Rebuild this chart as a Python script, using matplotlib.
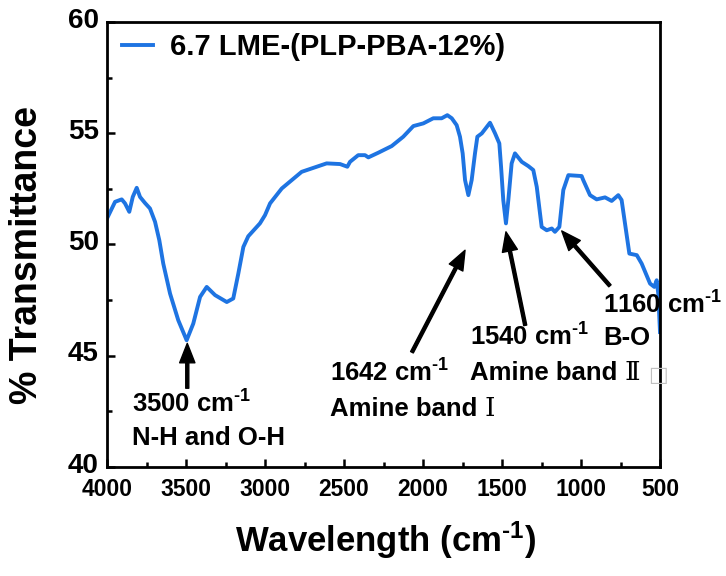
import matplotlib
matplotlib.use("Agg")
import matplotlib.pyplot as plt
import matplotlib.transforms as mtransforms
from matplotlib.ticker import MultipleLocator

plt.rcParams['font.family'] = ['Liberation Sans', 'DejaVu Serif']
plt.rcParams['font.weight'] = 'bold'
plt.rcParams['mathtext.fontset'] = 'custom'
plt.rcParams['mathtext.rm'] = 'Liberation Sans:bold'
plt.rcParams['mathtext.bf'] = 'Liberation Sans:bold'
plt.rcParams['mathtext.default'] = 'bf'

# Spectrum
wavenumber = [4000, 3949, 3907, 3886, 3859, 3837, 3812, 3791, 3760, 3728, 3696, 3669,
              3644, 3601, 3549, 3496, 3454, 3411, 3369, 3316, 3242, 3201, 3169, 3137,
              3106, 3032, 3000, 2968, 2894, 2768, 2610, 2525, 2479, 2462, 2410, 2367,
              2346, 2283, 2198, 2125, 2061, 1998, 1935, 1882, 1846, 1818, 1787, 1766,
              1749, 1734, 1713, 1692, 1671, 1656, 1628, 1576, 1544, 1517, 1506, 1492,
              1475, 1460, 1439, 1418, 1375, 1334, 1302, 1280, 1249, 1217, 1185, 1165,
              1137, 1112, 1080, 996, 986, 943, 901, 848, 806, 764, 743, 694, 647, 616,
              563, 536, 521, 511, 500]
transmittance = [51.17, 51.92, 52.03, 51.85, 51.47, 52.14, 52.55, 52.14, 51.87, 51.62, 51.02, 50.19,
                 49.14, 47.79, 46.59, 45.69, 46.44, 47.64, 48.09, 47.72, 47.41, 47.57, 48.69, 49.89,
                 50.37, 50.95, 51.32, 51.85, 52.52, 53.27, 53.65, 53.62, 53.50, 53.72, 54.02, 54.02,
                 53.92, 54.13, 54.43, 54.85, 55.33, 55.45, 55.68, 55.68, 55.82, 55.68, 55.37, 54.85,
                 54.10, 52.90, 52.22, 52.90, 54.10, 54.85, 55.00, 55.48, 55.00, 54.55, 53.50, 52.00,
                 50.95, 52.00, 53.65, 54.10, 53.72, 53.53, 53.35, 52.59, 50.79, 50.64, 50.72, 50.57,
                 50.79, 52.45, 53.12, 53.08, 52.90, 52.22, 52.03, 52.12, 51.96, 52.22, 52.00, 49.59,
                 49.52, 49.14, 48.24, 48.09, 48.39, 47.79, 46.06]

series_label = "6.7 LME-(PLP-PBA-12%)"
x_ticks = [4000, 3500, 3000, 2500, 2000, 1500, 1000, 500]
y_ticks = [40, 45, 50, 55, 60]

SUP = "$^{\u2010\\mathbf{1}}$"

# annotations: (tip_x, tip_y, tail_x, tail_y)
arrows = [
    (3492, 45.55, 3492, 43.53),
    (1734, 49.74, 2070, 45.15),
    (1475, 50.57, 1353, 46.36),
    (1122, 50.61, 817, 48.14),
]
# texts: (x, y, string, roman numeral suffix)
labels = [
    (3842, 42.45, "3500 cm" + SUP, ""),
    (3842, 40.98, "N-H and O-H", ""),
    (2589, 43.81, "1642 cm" + SUP, ""),
    (2589, 42.27, "Amine band ", "\u2160"),
    (1703, 45.46, "1540 cm" + SUP, ""),
    (1703, 43.89, "Amine band ", "\u2161"),
    (861, 46.91, "1160 cm" + SUP, ""),
    (861, 45.46, "B-O", ""),
]

fig = plt.figure(figsize=(7.26, 5.76), dpi=100)
ax = fig.add_axes([0.1474, 0.1898, 0.7617, 0.7715])

ax.plot(wavenumber, transmittance, color='#1E74E2', lw=2.8, label=series_label)

ax.set_xlim(4000, 500)
ax.set_ylim(40, 60)
ax.set_xticks(x_ticks)
ax.set_yticks(y_ticks)
ax.xaxis.set_minor_locator(MultipleLocator(250))
ax.yaxis.set_minor_locator(MultipleLocator(2.5))
ax.tick_params(which='both', direction='in', width=1.8)
ax.tick_params(which='major', length=6)
ax.tick_params(which='minor', length=3.5)
ax.tick_params(axis='x', labelsize=16.5, pad=8)
ax.tick_params(axis='y', labelsize=20, pad=6)
for lab in ax.get_xticklabels() + ax.get_yticklabels():
    lab.set_fontweight('bold')
shift_up = mtransforms.ScaledTranslation(0, 3 / 72, fig.dpi_scale_trans)
for lab in ax.get_yticklabels():
    lab.set_transform(lab.get_transform() + shift_up)
for s in ax.spines.values():
    s.set_linewidth(2)

ax.set_xlabel("Wavelength (cm" + SUP + ")", fontsize=25, fontweight='bold')
ax.xaxis.set_label_coords(0.504, -0.118)
ax.set_ylabel("% Transmittance", fontsize=27, fontweight='bold')
ax.yaxis.set_label_coords(-0.112, 0.476)

for tx, ty, sx, sy in arrows:
    ax.annotate("", xy=(tx, ty), xytext=(sx, sy),
                arrowprops=dict(facecolor='black', edgecolor='black', width=2.2,
                                headwidth=11, headlength=14, shrink=0))

for x, y, s, num in labels:
    t = ax.text(x, y, s, fontsize=18.5, fontweight='bold', ha='left', va='baseline',
                clip_on=False)
    if num:
        n = ax.annotate(num, xy=(1, 0), xycoords=t, ha='left', va='bottom',
                        fontsize=19, fontweight='normal', family=['DejaVu Serif'],
                        annotation_clip=False)
        if num == "\u2161":
            ax.annotate("\u25a1", xy=(1, 0), xycoords=n, xytext=(6, 0),
                        textcoords='offset points', ha='left', va='bottom',
                        fontsize=15, color='#c0c0c0', family=['DejaVu Sans'],
                        annotation_clip=False)

leg = ax.legend(loc='center left', bbox_to_anchor=(0.027, 0.944), frameon=False,
                fontsize=21, handlelength=1.05, handletextpad=0.6, borderpad=0,
                borderaxespad=0)
for t in leg.get_texts():
    t.set_fontweight('bold')

fig.savefig("out.png", dpi=100)
